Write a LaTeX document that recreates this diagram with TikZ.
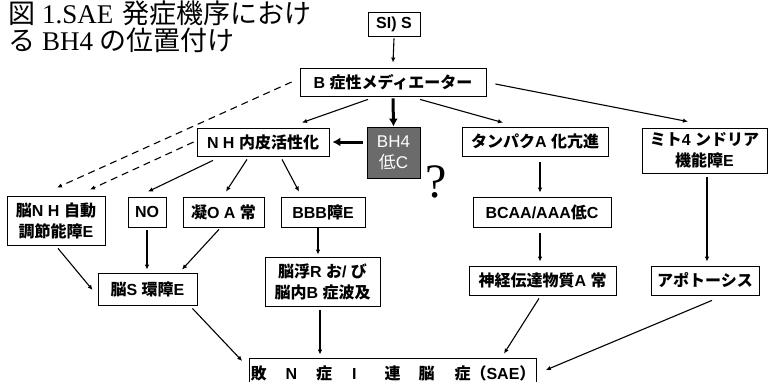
\documentclass[tikz,border=0pt]{standalone}
\usepackage{fontspec}
\setmainfont{Liberation Sans}
\newfontfamily\jp{Noto Sans CJK JP}
\newfontfamily\ser{Liberation Serif}
\usetikzlibrary{arrows.meta,calc}
\newcommand\J[1]{{\jp\bfseries #1}}
\newcommand\T[1]{{\jp\mdseries #1}}
\tikzset{
  bx/.style={draw, line width=0.8pt, inner sep=1pt, align=center,
    font=\bfseries\fontsize{16}{21}\selectfont},
  arr/.style={-{Latex[length=5pt,width=4.5pt]}, line width=1.1pt},
  tarr/.style={-{Latex[length=8pt,width=9pt]}, line width=3pt},
  darr/.style={arr, dash pattern=on 7pt off 5pt},
  ttl/.style={anchor=base west, inner sep=0pt, font=\fontsize{27}{28}\selectfont}
}
\begin{document}
\begin{tikzpicture}[x=1pt,y=-1pt]
\clip (0,0) rectangle (768,381);
\useasboundingbox (0,0) rectangle (768,381);
% title
\node[ttl] (t1) at (8,23) {\T{図}\hspace{7pt}{\ser 1.SAE}\hspace{9pt}\T{発症機序におけ}};
\node[ttl] (t2) at (8,50) {\T{る}\hspace{7pt}{\ser BH4}\hspace{6pt}\T{の位置付け}};
% nodes
\node[bx, minimum width=52pt, minimum height=24pt] (S) at (394,24) {SI) S};
\node[bx, minimum width=186pt, minimum height=28pt] (B) at (393,82) {B \J{症性メディエーター}};
\node[bx, minimum width=132pt, minimum height=28pt] (NH) at (263,142) {N H \J{内皮活性化}};
\node[bx, minimum width=53pt, minimum height=51pt, fill=black!58, text=white, font=\mdseries\fontsize{17}{21}\selectfont] (BH) at (393.5,152.5) {BH4\\\T{低}C};
\node[anchor=base, inner sep=0pt, font=\ser\fontsize{48}{50}\selectfont] (Q) at (436,197) {?};
\node[bx, minimum width=146pt, minimum height=29pt] (T) at (535,141.5) {\J{タンパク}A \J{化亢進}};
\node[bx, minimum width=125pt, minimum height=45pt] (M) at (704.5,150.5) {\J{ミト}4 \J{ンドリア}\\\J{機能障}E};
\node[bx, minimum width=98pt, minimum height=49pt] (A) at (56,220.5) {\J{脳}N H \J{自動}\\\J{調節能障}E};
\node[bx, minimum width=38pt, minimum height=30pt] (NO) at (147,212) {NO};
\node[bx, minimum width=81pt, minimum height=30pt] (G) at (223.5,212) {\J{凝}O A \J{常}};
\node[bx, minimum width=84pt, minimum height=30pt] (BBB) at (323,212) {BBB\J{障}E};
\node[bx, minimum width=99pt, minimum height=32pt] (C) at (147.5,289) {\J{脳}S \J{環障}E};
\node[bx, minimum width=115pt, minimum height=49pt] (D) at (322.5,281.5) {\J{脳浮}R \J{お}/ \J{び}\\\J{脳内}B \J{症波及}};
\node[bx, minimum width=138pt, minimum height=30pt] (F) at (542,212) {BCAA/AAA\J{低}C};
\node[bx, minimum width=147pt, minimum height=29pt] (N2) at (542.5,280.5) {\J{神経伝達物質}A \J{常}};
\node[bx, minimum width=108pt, minimum height=29pt] (P) at (705,280.5) {\J{アポトーシス}};
\node[bx, minimum width=286pt, minimum height=30pt] (E) at (393,373) {\J{敗}\hspace{19pt}N\hspace{19pt}\J{症}\hspace{20pt}I\hspace{28pt}\J{連}\hspace{18pt}\J{脳}\hspace{20pt}\J{症}\J{（}SAE\J{）}};
% connectors
\draw[arr] ($(S.south)+(0,2)$) -- ($(B.north)+(0,-5)$);
\draw[tarr] ($(B.south)+(0,2)$) -- (BH.north);
\draw[tarr] ($(BH.west|-NH.east)+(-4,0)$) -- ($(NH.east)+(3,0)$);
\draw[arr] ($(B.south)+(-25,3)$) -- ($(NH.north)+(39,-5)$);
\draw[arr] ($(B.south)+(27,3)$) -- ($(T.north)+(-32,-4)$);
\draw[arr] ($(B.east)+(9,2)$) -- ($(M.north)+(-16.5,-6)$);
\draw[darr] ($(B.west)+(-8,0)$) -- ($(A.north)+(1,-8)$);
\draw[darr] ($(NH.west)+(-3,0)$) -- ($(A.north)+(34,-6)$);
\draw[arr] ($(NH.south)+(-50,4)$) -- ($(NO.north)+(1,-5)$);
\draw[arr] ($(NH.south)+(-16,3)$) -- ($(G.north)+(2.5,-5)$);
\draw[arr] ($(NH.south)+(19,3)$) -- ($(BBB.north)+(-24,-5)$);
\draw[arr] ($(A.south)+(2,3)$) -- ($(C.west)+(-5,1)$);
\draw[arr] ($(NO.south)+(0,3)$) -- ($(NO.south|-C.north)+(0,-3)$);
\draw[arr] ($(G.south)+(-4.5,2)$) -- ($(C.north)+(34.5,-3)$);
\draw[arr] ($(BBB.south)+(-5,1)$) -- ($(BBB.south|-D.north)+(-5,-2)$);
\draw[arr] ($(T.south)+(5,6)$) -- ($(T.south|-F.north)+(5,-4)$);
\draw[arr] ($(F.south)+(-2,6)$) -- ($(F.south|-N2.north)+(-2,-4)$);
\draw[arr] ($(M.south)+(2.5,4)$) -- ($(M.south|-P.north)+(2.5,-4)$);
\draw[arr] ($(C.south east)+(-5,3)$) -- ($(E.west)+(-7,-12)$);
\draw[arr] ($(D.south)+(-2.5,4)$) -- ($(D.south|-E.north)+(-2.5,-3)$);
\draw[arr] ($(N2.south)+(-3.5,3)$) -- ($(E.north)+(111,-4)$);
\draw[arr] ($(P.south)+(7,5)$) -- ($(E.east)+(9,-3)$);
\end{tikzpicture}
\end{document}
